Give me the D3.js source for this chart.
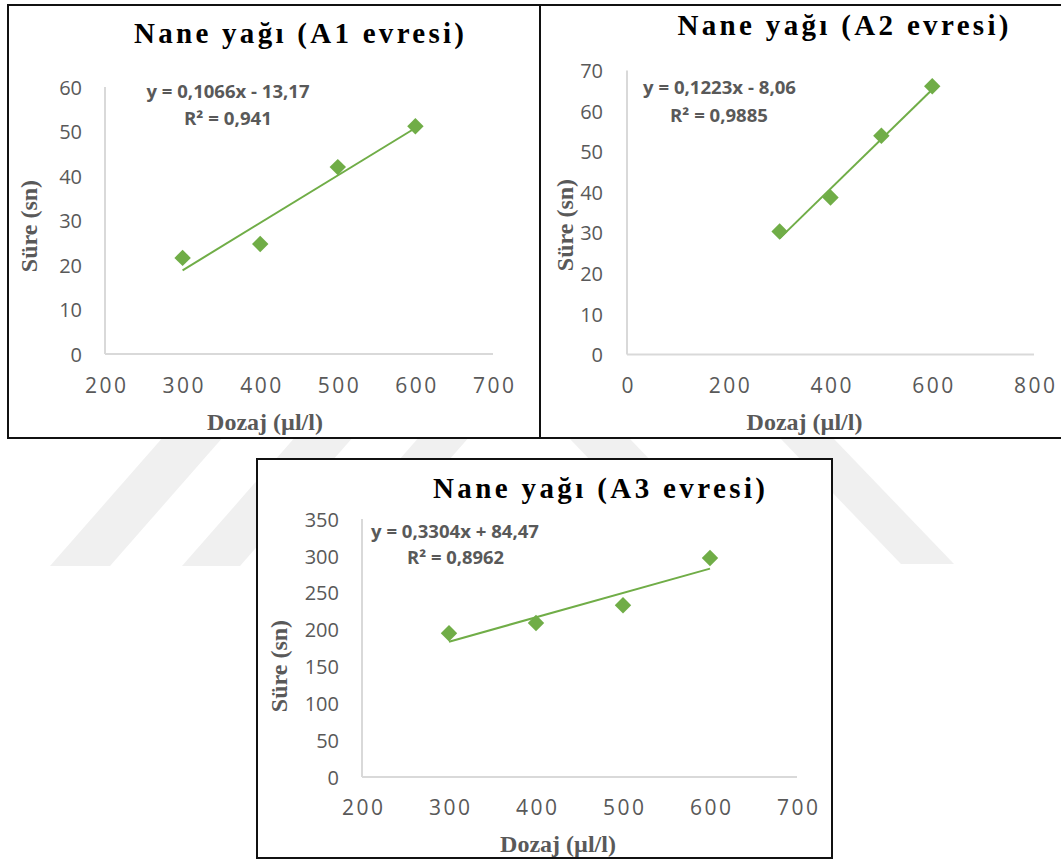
<!DOCTYPE html>
<html>
<head>
<meta charset="utf-8">
<script src="https://cdn.jsdelivr.net/npm/d3@7"></script>
<style>
  body { margin: 0; background: #fff; }
  svg  { display: block; }
</style>
</head>
<body>
<div id="chart"></div>
<script>
// ---- data ----
const dozaj  = [300, 400, 500, 600];
const sureA1 = [21.6, 24.7, 42.0, 51.2];
const sureA2 = [30.3, 38.7, 53.9, 66.1];
const sureA3 = [195, 209, 233, 297];

const titles     = ['Nane yağı (A1 evresi)', 'Nane yağı (A2 evresi)', 'Nane yağı (A3 evresi)'];
const eqLabels   = ['y = 0,1066x - 13,17', 'y = 0,1223x - 8,06', 'y = 0,3304x + 84,47'];
const r2Labels   = ['R² = 0,941', 'R² = 0,9885', 'R² = 0,8962'];
const slopes     = [0.1066, 0.1223, 0.3304];
const intercepts = [-13.17, -8.06, 84.47];

const xTicksA1 = [200, 300, 400, 500, 600, 700];
const xTicksA2 = [0, 200, 400, 600, 800];
const xTicksA3 = [200, 300, 400, 500, 600, 700];
const yTicksA1 = [0, 10, 20, 30, 40, 50, 60];
const yTicksA2 = [0, 10, 20, 30, 40, 50, 60, 70];
const yTicksA3 = [0, 50, 100, 150, 200, 250, 300, 350];

const xTitle = 'Dozaj (µl/l)';
const yTitle = 'Süre (sn)';

const GREEN = '#70AD47';
const GREY  = '#595959';
const SERIF = "'Liberation Serif', 'Times New Roman', serif";
const SANS  = "'Open Sans', 'Liberation Sans', sans-serif";

// panel layout (page pixels)
const layout = [
  { frame: [8, 5, 532, 433],   xr: [105, 493], yr: [354, 87],     yLbl: 82,  xLbl: 393,
    title: [299, 43, 330], eq: [228, 98, 163],   r2: [228, 125, 88],   yT: [37, 226],  xT: [265, 430] },
  { frame: [540, 5, 530, 433], xr: [627, 1034], yr: [354.5, 70.5], yLbl: 603, xLbl: 393,
    title: [843, 35, 331], eq: [719.5, 94, 153], r2: [719, 122, 98],   yT: [573, 225], xT: [804.5, 430] },
  { frame: [257, 459, 575, 399], xr: [362, 797], yr: [777, 519],   yLbl: 339, xLbl: 815,
    title: [599, 498, 332], eq: [455, 538, 168], r2: [455.5, 564, 97], yT: [287, 666], xT: [558, 852] }
];

const series = [sureA1, sureA2, sureA3];
const xTicks = [xTicksA1, xTicksA2, xTicksA3];
const yTicks = [yTicksA1, yTicksA2, yTicksA3];

const W = 1061, H = 859;
const svg = d3.select('#chart').append('svg')
  .attr('width', W).attr('height', H)
  .attr('viewBox', `0 0 ${W} ${H}`);

// faint watermark behind the panels
const wm = svg.append('g').attr('fill', '#f0f0f0');
[[50, 110], [182, 240], [306, 356]].forEach(([a, b]) => {
  const k = 0.877, top = 380, bot = 566, dy = bot - top;
  wm.append('polygon').attr('points',
    `${a},${bot} ${b},${bot} ${b + k * dy},${top} ${a + k * dy},${top}`);
});
[[570, 630], [781, 834]].forEach(([a, b]) => {
  const k = 0.96, top = 439, bot = 564, dy = bot - top;
  wm.append('polygon').attr('points',
    `${a},${top} ${b},${top} ${b + k * dy},${bot} ${a + k * dy},${bot}`);
});

// ==============================================
// PANEL
// ==============================================
function drawPanel(i) {
  const L = layout[i];
  const xt = xTicks[i], yt = yTicks[i];
  const g = svg.append('g');

  g.append('rect')
    .attr('x', L.frame[0]).attr('y', L.frame[1])
    .attr('width', L.frame[2]).attr('height', L.frame[3])
    .attr('fill', '#fff').attr('stroke', '#111').attr('stroke-width', 2);

  const x = d3.scaleLinear().domain([xt[0], xt[xt.length - 1]]).range(L.xr);
  const y = d3.scaleLinear().domain([yt[0], yt[yt.length - 1]]).range(L.yr);

  // axis lines
  g.append('line')
    .attr('x1', x.range()[0]).attr('x2', x.range()[1])
    .attr('y1', y(0)).attr('y2', y(0))
    .attr('stroke', '#d9d9d9').attr('stroke-width', 2);
  g.append('line')
    .attr('x1', x.range()[0]).attr('x2', x.range()[0])
    .attr('y1', y.range()[0]).attr('y2', y.range()[1])
    .attr('stroke', '#d9d9d9').attr('stroke-width', 2);

  // y tick labels
  g.append('g')
    .attr('transform', `translate(${L.yLbl},0)`)
    .call(d3.axisLeft(y).tickValues(yt).tickSize(0).tickPadding(0))
    .call(a => a.select('.domain').remove())
    .call(a => a.selectAll('.tick text')
      .attr('fill', GREY).attr('font-size', '20px').attr('font-family', SANS)
      .attr('dy', '0.36em'));

  // x tick labels (Excel letter-spaced)
  g.append('g')
    .attr('transform', `translate(0,${L.xLbl})`)
    .call(d3.axisBottom(x).tickValues(xt).tickSize(0))
    .call(a => a.select('.domain').remove())
    .call(a => a.selectAll('.tick text')
      .attr('y', 0).attr('dy', 0).attr('dx', 1.2)
      .attr('fill', GREY).attr('font-size', '21px').attr('font-family', SANS)
      .style('letter-spacing', '2.5px'));

  // trendline
  const x0 = d3.min(dozaj), x1 = d3.max(dozaj);
  g.append('line')
    .attr('x1', x(x0)).attr('y1', y(slopes[i] * x0 + intercepts[i]))
    .attr('x2', x(x1)).attr('y2', y(slopes[i] * x1 + intercepts[i]))
    .attr('stroke', GREEN).attr('stroke-width', 2);

  // markers
  g.selectAll('.pt')
    .data(dozaj.map((d, j) => ({ x: d, y: series[i][j] })))
    .enter().append('path')
    .attr('d', d3.symbol(d3.symbolSquare, 135))
    .attr('transform', d => `translate(${x(d.x)},${y(d.y)}) rotate(45)`)
    .attr('fill', GREEN);

  // equation + R²
  g.append('text')
    .attr('x', L.eq[0]).attr('y', L.eq[1])
    .attr('text-anchor', 'middle')
    .attr('textLength', L.eq[2]).attr('lengthAdjust', 'spacingAndGlyphs')
    .attr('font-size', '17.5px').attr('font-weight', 700)
    .attr('font-family', SANS).attr('fill', GREY)
    .text(eqLabels[i]);
  g.append('text')
    .attr('x', L.r2[0]).attr('y', L.r2[1])
    .attr('text-anchor', 'middle')
    .attr('textLength', L.r2[2]).attr('lengthAdjust', 'spacingAndGlyphs')
    .attr('font-size', '17.5px').attr('font-weight', 700)
    .attr('font-family', SANS).attr('fill', GREY)
    .text(r2Labels[i]);

  // title
  g.append('text')
    .attr('x', L.title[0]).attr('y', L.title[1])
    .attr('text-anchor', 'middle')
    .attr('textLength', L.title[2]).attr('lengthAdjust', 'spacing')
    .attr('font-size', '29px').attr('font-weight', 700)
    .attr('font-family', SERIF).attr('fill', '#000')
    .text(titles[i]);

  // axis titles
  g.append('text')
    .attr('transform', `translate(${L.yT[0]},${L.yT[1]}) rotate(-90)`)
    .attr('text-anchor', 'middle')
    .attr('font-size', '24px').attr('font-weight', 700)
    .attr('font-family', SERIF).attr('fill', GREY)
    .text(yTitle);
  g.append('text')
    .attr('x', L.xT[0]).attr('y', L.xT[1])
    .attr('text-anchor', 'middle')
    .attr('font-size', '24px').attr('font-weight', 700)
    .attr('font-family', SERIF).attr('fill', GREY)
    .text(xTitle);
}

[0, 1, 2].forEach(drawPanel);
</script>
</body>
</html>
